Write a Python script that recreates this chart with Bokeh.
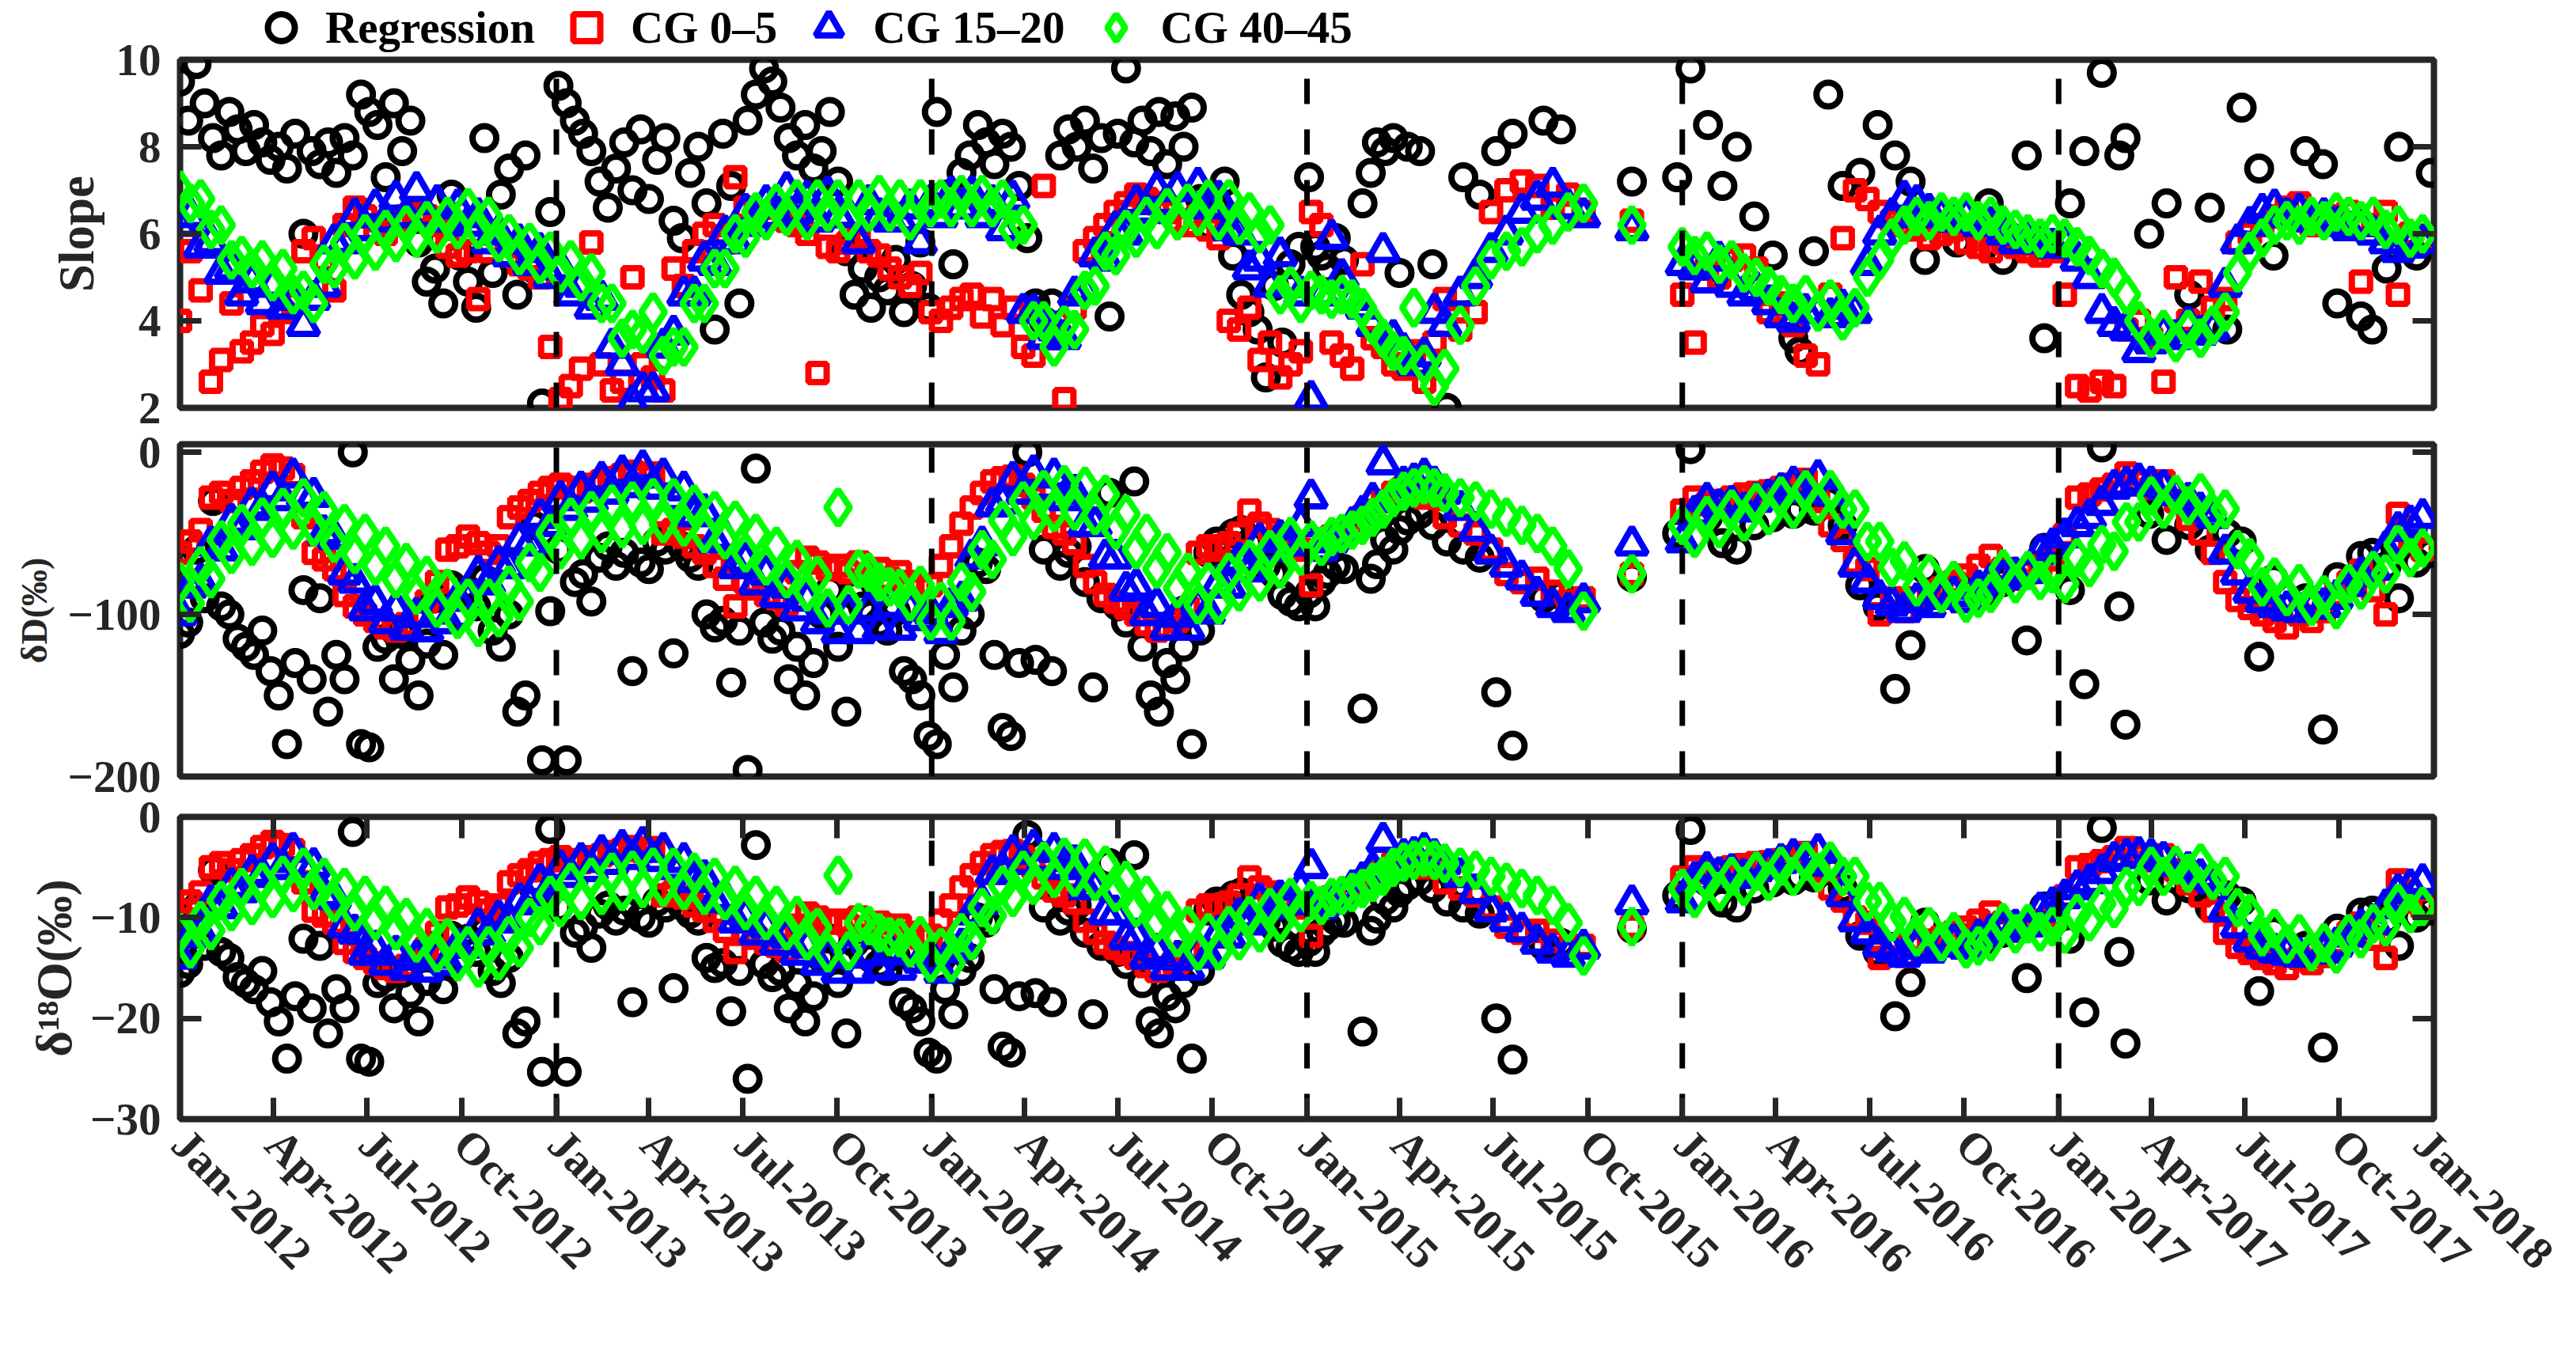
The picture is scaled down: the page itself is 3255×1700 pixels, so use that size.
import pandas as pd
from bokeh.plotting import figure
from bokeh.models import (Range1d, FixedTicker, LinearAxis, Legend, LegendItem,
                          CustomJSTickFormatter)
from bokeh.layouts import column
from bokeh.embed import file_html
from bokeh.resources import INLINE

# ---------------------------------------------------------------- data
START = pd.Timestamp("2012-01-01")
END = pd.Timestamp("2018-01-01")

x_tick_labels = ["Jan-2012", "Apr-2012", "Jul-2012", "Oct-2012",
                 "Jan-2013", "Apr-2013", "Jul-2013", "Oct-2013",
                 "Jan-2014", "Apr-2014", "Jul-2014", "Oct-2014",
                 "Jan-2015", "Apr-2015", "Jul-2015", "Oct-2015",
                 "Jan-2016", "Apr-2016", "Jul-2016", "Oct-2016",
                 "Jan-2017", "Apr-2017", "Jul-2017", "Oct-2017", "Jan-2018"]
year_marks = ["2013-01-01", "2014-01-01", "2015-01-01", "2016-01-01", "2017-01-01"]

series_names = ["Regression", "CG 0\u20135", "CG 15\u201320", "CG 40\u201345"]

# sampling dates of the CG series, days since 2012-01-01
cg_day = [
    0, 10, 20, 30, 40, 50, 60, 70, 80, 90,
    100, 110, 120, 130, 140, 150, 160, 170, 180, 190,
    200, 210, 220, 230, 240, 250, 260, 270, 280, 290,
    300, 310, 320, 330, 340, 350, 360, 370, 380, 390,
    400, 410, 420, 430, 440, 450, 460, 470, 480, 490,
    500, 510, 520, 530, 540, 550, 560, 570, 580, 590,
    600, 610, 620, 630, 640, 650, 660, 670, 680, 690,
    700, 710, 720, 730, 740, 750, 760, 770, 780, 790,
    800, 810, 820, 830, 840, 850, 860, 870, 880, 890,
    900, 910, 920, 930, 940, 950, 960, 970, 980, 990,
    1000, 1010, 1020, 1030, 1040, 1050, 1060, 1070, 1080, 1090,
    1100, 1110, 1120, 1130, 1140, 1150, 1160, 1170, 1180, 1190,
    1200, 1210, 1220, 1230, 1245, 1260, 1275, 1290, 1305, 1320,
    1335, 1350, 1365, 1412,
    1461, 1473, 1485, 1497, 1509, 1521, 1533, 1545, 1557, 1569,
    1581, 1593, 1605, 1617, 1629, 1641, 1653, 1665, 1677, 1689,
    1701, 1713, 1725, 1737, 1749, 1761, 1773, 1785, 1797, 1809,
    1821, 1833, 1845, 1857, 1869, 1881, 1893, 1905, 1917, 1929,
    1941, 1953, 1965, 1977, 1989, 2001, 2013, 2025, 2037, 2049,
    2061, 2073, 2085, 2097, 2109, 2121, 2133, 2145, 2157, 2169,
    2181]

# dates of the regression estimates, days since 2012-01-01
reg_day = [
    0, 8, 16, 24, 32, 40, 48, 56, 64, 72, 80, 88,
    96, 104, 112, 120, 128, 136, 144, 152, 160, 168, 176,
    184, 192, 200, 208, 216, 224, 232, 240, 248, 256, 264, 272,
    280, 288, 296, 304, 312, 320, 328, 336, 344, 352, 360,
    368, 376, 384, 392, 400, 408, 416, 424, 432, 440, 448, 456,
    464, 472, 480, 488, 496, 504, 512, 520, 528, 536, 544,
    552, 560, 568, 576, 584, 592, 600, 608, 616, 624, 632,
    640, 648, 656, 664, 672, 680, 688, 696, 704, 712, 720, 728,
    736, 744, 752, 760, 768, 776, 784, 792, 800, 808, 816,
    824, 832, 840, 848, 856, 864, 872, 880, 888, 896, 904,
    912, 920, 928, 936, 944, 952, 960, 968, 976, 984, 992,
    1000, 1008, 1016, 1024, 1032, 1040, 1048, 1056, 1064, 1072, 1080, 1088,
    1098, 1104, 1110, 1116, 1124, 1132, 1150, 1158, 1164, 1172, 1180, 1186,
    1194, 1206, 1218, 1232, 1248, 1264, 1280, 1296, 1326, 1343, 1412,
    1456, 1469, 1486, 1500, 1514, 1531, 1549, 1569, 1575, 1589, 1603, 1617,
    1634, 1651, 1668, 1683, 1697, 1728, 1759, 1773, 1796, 1813, 1838, 1852,
    1869, 1886, 1892, 1915, 1932, 1954, 1974, 1991, 2005, 2022, 2036, 2067,
    2084, 2098, 2121, 2132, 2146, 2158, 2175, 2189]

# ---- Slope
slope_reg = [
    9.5, 8.6, 9.9, 9.0, 8.2, 7.8, 8.8, 8.4, 7.9, 8.5, 8.1, 7.7,
    8.0, 7.5, 8.3, 6.0, 7.9, 7.6, 8.1, 7.4, 8.2, 7.8, 9.2,
    8.8, 8.5, 7.3, 9.0, 7.9, 8.6, 5.8, 4.9, 5.2, 4.4, 6.9, 5.5,
    4.9, 4.3, 8.2, 5.1, 6.9, 7.5, 4.6, 7.8, 5.2, 2.1, 6.5,
    9.4, 9.0, 8.6, 8.3, 7.9, 7.2, 6.6, 7.5, 8.1, 7.0, 8.4, 6.8,
    7.7, 8.2, 6.3, 5.9, 7.4, 8.0, 6.7, 3.8, 8.3, 7.1, 4.4,
    8.6, 9.2, 9.8, 9.5, 8.9, 8.2, 7.8, 8.5, 7.5, 7.9, 8.8,
    7.2, 5.6, 4.6, 5.2, 4.3, 5.0, 4.7, 5.4, 4.2, 4.8, 5.8, 4.3,
    8.8, 6.9, 5.3, 7.4, 7.8, 8.5, 8.1, 7.6, 8.3, 8.0, 7.1,
    5.9, 4.4, 4.0, 4.4, 7.8, 8.4, 8.0, 8.6, 7.5, 8.2, 4.1,
    8.3, 9.8, 8.1, 8.6, 7.9, 8.8, 7.6, 8.7, 8.0, 8.9, 6.8,
    6.2, 6.6, 7.2, 5.5, 4.6, 4.2, 3.8, 2.7, 4.8, 3.5, 5.3, 5.7,
    7.3, 5.7, 5.5, 5.2, 5.9, 5.4, 6.7, 7.4, 8.1, 7.9, 8.2, 5.1,
    8.0, 7.9, 5.3, 2.0, 7.3, 6.9, 7.9, 8.3, 8.6, 8.4, 7.2,
    7.3, 9.8, 8.5, 7.1, 8.0, 6.4, 5.5, 3.6, 3.3, 5.6, 9.2, 7.1,
    7.4, 8.5, 7.8, 7.2, 5.4, 5.8, 6.7, 5.4, 7.8, 3.6, 6.7, 7.9,
    9.7, 7.8, 8.2, 6.0, 6.7, 4.6, 6.6, 3.8, 8.9, 7.5, 5.5, 7.9,
    7.6, 4.4, 4.1, 3.8, 5.2, 8.0, 5.5, 7.4]

slope_cg0_5 = [
    4.0, 5.6, 4.7, 2.6, 3.1, 4.4, 3.3, 3.5, 3.9, 3.7,
    4.2, 4.4, 5.6, 5.9, 5.4, 4.7, 6.2, 6.6, 6.4, 6.1,
    6.0, 6.3, 6.4, 6.5, 6.4, 6.2, 5.7, 5.5, 5.6, 4.5,
    5.6, 5.8, 5.5, 5.3, 5.2, 5.0, 3.4, 2.2, 2.5, 2.9,
    5.8, 3.0, 2.4, 2.6, 5.0, 3.0, 2.7, 2.4, 5.2, 4.8,
    5.6, 6.0, 6.2, 5.8, 7.3, 6.6, 6.5, 6.4, 6.6, 6.3,
    6.2, 6.0, 2.8, 5.7, 5.6, 5.8, 5.9, 5.6, 5.5, 5.2,
    5.0, 4.8, 5.1, 4.2, 4.0, 4.3, 4.5, 4.6, 4.1, 4.5,
    3.9, 4.3, 3.4, 3.2, 7.1, 3.6, 2.2, 4.3, 5.6, 5.9,
    6.2, 6.5, 6.7, 6.9, 6.8, 6.7, 6.5, 6.3, 6.2, 6.4,
    6.1, 5.9, 4.0, 3.8, 4.3, 3.1, 3.5, 2.7, 3.0, 3.3,
    6.5, 6.2, 3.5, 3.2, 2.9, 5.3, 3.6, 3.4, 3.0, 2.9,
    3.3, 2.6, 3.5, 4.5, 3.8, 4.2, 6.5, 7.0, 7.2, 7.1,
    6.6, 6.9, 6.5, 6.3,
    4.6, 3.5, 5.2, 5.0, 5.4, 5.5, 5.2, 4.2, 4.4, 3.9,
    3.2, 3.0, 4.6, 5.9, 7.0, 6.8, 6.5, 6.3, 6.2, 6.1,
    5.9, 6.0, 6.1, 5.8, 5.7, 5.6, 5.8, 5.7, 5.6, 5.5,
    5.6, 4.6, 2.5, 2.4, 2.6, 2.5, 3.8, 4.0, 3.6, 2.6,
    5.0, 4.0, 4.9, 4.3, 4.5, 5.8, 6.0, 6.2, 6.4, 6.6,
    6.7, 6.2, 6.3, 6.4, 6.5, 4.9, 6.2, 6.5, 4.6, 6.0,
    5.9]

slope_cg15_20 = [
    6.2, 6.4, 5.7, 5.8, 5.1, 5.2, 4.6, 4.9, 4.4, 4.8,
    4.3, 4.5, 3.9, 4.5, 4.8, 5.8, 5.8, 6.4, 6.1, 6.6,
    6.3, 6.8, 6.4, 7.0, 6.4, 6.7, 6.3, 6.6, 6.2, 6.4,
    5.8, 6.0, 5.5, 5.8, 5.3, 5.6, 5.0, 5.2, 4.6, 4.8,
    4.3, 4.5, 3.4, 3.0, 2.1, 2.4, 2.4, 3.4, 3.7, 4.6,
    4.6, 5.4, 5.3, 6.0, 5.8, 6.5, 6.2, 6.7, 6.4, 7.0,
    6.5, 6.8, 6.3, 6.9, 6.4, 6.4, 5.8, 6.7, 6.4, 6.3,
    6.3, 6.6, 5.8, 6.7, 6.4, 6.9, 6.6, 6.9, 6.4, 6.7,
    6.1, 6.8, 4.2, 4.2, 3.6, 3.8, 3.6, 4.6, 4.7, 5.5,
    5.4, 6.1, 6.0, 6.7, 6.5, 7.0, 6.7, 7.0, 6.7, 7.1,
    6.6, 6.8, 6.1, 6.0, 5.2, 5.4, 4.8, 5.5, 4.8, 4.6,
    2.2, 4.6, 5.9, 5.0, 4.5, 4.3, 3.9, 5.6, 3.6, 3.3,
    3.0, 3.2, 4.2, 3.9, 4.6, 5.0, 5.6, 6.0, 6.5, 6.8,
    7.1, 6.6, 6.4, 6.1,
    5.3, 5.2, 4.9, 5.4, 4.8, 4.6, 4.7, 4.4, 4.1, 4.0,
    4.2, 4.2, 4.1, 4.3, 4.2, 5.3, 6.0, 6.4, 6.8, 6.7,
    6.5, 6.4, 6.3, 6.4, 6.2, 6.2, 6.0, 5.8, 5.9, 5.8,
    5.7, 5.8, 5.4, 5.0, 4.2, 3.9, 3.8, 3.3, 3.5, 3.7,
    3.6, 3.9, 3.7, 3.8, 4.8, 5.8, 6.2, 6.5, 6.6, 6.4,
    6.5, 6.3, 6.4, 6.2, 6.1, 6.2, 6.0, 5.8, 5.6, 5.7,
    5.8]

slope_cg40_45 = [
    7.0, 6.7, 6.8, 6.1, 6.2, 5.4, 5.5, 5.2, 5.4, 4.9,
    5.2, 4.6, 4.7, 4.4, 5.3, 5.2, 5.8, 5.4, 6.0, 5.6,
    6.1, 5.8, 6.2, 5.9, 6.3, 6.0, 6.4, 6.1, 6.6, 6.1,
    6.4, 5.8, 6.0, 5.5, 5.8, 5.3, 5.6, 5.1, 5.4, 4.9,
    5.1, 4.4, 4.4, 3.6, 3.8, 3.7, 4.2, 3.2, 3.4, 3.4,
    4.4, 4.4, 5.2, 5.2, 6.0, 5.9, 6.5, 6.3, 6.7, 6.4,
    6.8, 6.3, 6.8, 6.5, 6.8, 6.3, 6.8, 6.5, 6.9, 6.5,
    6.8, 6.3, 6.8, 6.6, 6.8, 6.6, 6.9, 6.6, 6.9, 6.6,
    6.8, 6.1, 6.2, 4.0, 4.0, 3.4, 3.9, 3.8, 4.7, 4.8,
    5.6, 5.5, 6.1, 5.9, 6.4, 6.1, 6.6, 6.3, 6.7, 6.4,
    6.8, 6.3, 6.8, 6.2, 6.5, 6.0, 6.2, 4.6, 4.8, 4.4,
    4.7, 4.6, 4.5, 4.6, 4.5, 4.3, 3.9, 3.6, 3.3, 3.2,
    4.3, 3.0, 2.5, 2.9, 3.9, 4.8, 5.4, 5.6, 5.7, 6.0,
    6.2, 6.5, 6.7, 6.2,
    5.7, 5.5, 5.6, 5.3, 5.4, 5.1, 5.0, 4.8, 4.6, 4.4,
    4.6, 4.2, 4.5, 4.0, 4.3, 5.0, 5.4, 5.9, 6.2, 6.4,
    6.3, 6.5, 6.4, 6.5, 6.3, 6.4, 6.2, 6.1, 6.0, 5.9,
    6.0, 5.9, 5.7, 5.5, 5.2, 5.0, 4.6, 4.0, 3.6, 3.8,
    3.5, 3.8, 3.6, 3.9, 4.2, 5.1, 5.6, 5.9, 6.2, 6.3,
    6.2, 6.4, 6.3, 6.5, 6.4, 6.3, 6.4, 6.1, 6.2, 5.9,
    6.0]

# ---- deltaD (permil)
dD_reg = [
    -112, -105, -60, -90, -30, -95, -100, -115, -120, -125, -110, -135,
    -150, -180, -130, -85, -140, -90, -160, -125, -140, 0, -180,
    -182, -120, -115, -140, -112, -128, -150, -118, -90, -125, -82, -100,
    -85, -95, -78, -110, -120, -100, -160, -150, -45, -190, -98,
    -60, -190, -80, -75, -92, -65, -58, -70, -62, -135, -68, -72,
    -55, -60, -124, -58, -65, -70, -100, -108, -104, -142, -110,
    -196, -10, -105, -115, -110, -140, -120, -150, -130, -100, -85,
    -120, -160, -88, -95, -100, -105, -110, -98, -135, -140, -150, -175,
    -180, -125, -145, -110, -100, -68, -72, -125, -170, -175, -130,
    0, -128, -60, -135, -70, -62, -58, -80, -145, -90, -25,
    -95, -105, -18, -120, -150, -160, -130, -140, -120, -180, -110,
    -62, -55, -60, -50, -48, -56, -58, -70, -75, -88, -92, -95,
    -87, -95, -80, -75, -70, -72, -158, -78, -69, -54, -60, -48,
    -42, -38, -45, -55, -60, -65, -148, -181, -90, -88, -77,
    -50, 2, -40, -56, -60, -45, -40, -38, -35, -36, -30, -45,
    -82, -95, -146, -119, -72, -82, -85, -80, -116, -59, -85, -143,
    3, -95, -168, -38, -54, -45, -60, -50, -55, -126, -78, -90,
    -171, -77, -64, -62, -70, -90, -68, -62]

dD_cg0_5 = [
    -62, -55, -48, -28, -25, -30, -22, -18, -12, -8,
    -10, -14, -40, -62, -66, -72, -88, -95, -100, -104,
    -108, -110, -106, -100, -92, -80, -60, -58, -52, -56,
    -62, -58, -40, -34, -30, -25, -22, -20, -22, -24,
    -20, -18, -16, -14, -12, -15, -13, -50, -48, -52,
    -58, -62, -70, -78, -95, -80, -84, -88, -90, -94,
    -74, -65, -68, -72, -70, -74, -68, -76, -72, -78,
    -74, -80, -84, -82, -70, -58, -44, -34, -25, -18,
    -16, -15, -20, -28, -36, -46, -50, -56, -70, -80,
    -88, -92, -96, -100, -106, -110, -108, -104, -96, -62,
    -58, -60, -56, -50, -36, -44, -48, -52, -55, -60,
    -82, -60, -52, -50, -48, -40, -36, -30, -25, -22,
    -24, -28, -26, -40, -45, -50, -60, -75, -80, -78,
    -86, -92, -90, -75,
    -36, -28, -32, -30, -28, -26, -25, -24, -22, -20,
    -17, -30, -45, -54, -68, -72, -100, -90, -98, -90,
    -86, -84, -80, -76, -70, -64, -72, -78, -74, -70,
    -66, -51, -28, -26, -23, -20, -13, -18, -22, -18,
    -30, -41, -50, -62, -80, -91, -96, -100, -104, -108,
    -100, -104, -98, -88, -80, -73, -85, -100, -38, -55,
    -60]

dD_cg15_20 = [
    -100, -83, -80, -57, -60, -43, -47, -33, -35, -23,
    -29, -15, -27, -27, -50, -53, -75, -80, -97, -93,
    -105, -97, -109, -101, -110, -99, -105, -91, -91, -75,
    -81, -69, -71, -55, -57, -40, -45, -29, -35, -23,
    -30, -17, -25, -13, -21, -10, -22, -15, -29, -23,
    -39, -37, -55, -53, -71, -67, -81, -75, -89, -83,
    -97, -91, -105, -99, -111, -99, -111, -97, -109, -95,
    -109, -97, -103, -99, -111, -95, -91, -65, -57, -33,
    -31, -17, -25, -13, -22, -15, -29, -25, -45, -45,
    -65, -65, -85, -83, -100, -95, -109, -101, -109, -95,
    -99, -81, -83, -67, -73, -55, -60, -53, -57, -45,
    -28, -60, -55, -50, -45, -38, -30, -7, -28, -20,
    -18, -15, -20, -25, -35, -48, -62, -70, -78, -88,
    -95, -98, -92, -57,
    -55, -38, -30, -34, -32, -36, -30, -28, -24, -20,
    -22, -16, -26, -50, -70, -80, -90, -94, -98, -92,
    -95, -90, -88, -92, -84, -80, -78, -76, -74, -62,
    -58, -52, -45, -40, -32, -22, -20, -18, -20, -22,
    -26, -30, -36, -40, -62, -75, -86, -92, -95, -97,
    -98, -96, -95, -90, -82, -76, -72, -60, -48, -44,
    -40]

dD_cg40_45 = [
    -80, -93, -70, -78, -54, -63, -44, -58, -40, -53,
    -34, -48, -28, -46, -36, -56, -44, -63, -50, -70,
    -58, -78, -68, -88, -76, -96, -84, -103, -90, -108,
    -90, -102, -82, -92, -68, -74, -50, -60, -40, -54,
    -36, -50, -32, -47, -30, -45, -28, -44, -28, -46,
    -32, -50, -36, -54, -42, -62, -50, -70, -58, -78,
    -66, -86, -76, -96, -34, -94, -72, -74, -80, -83,
    -84, -92, -82, -104, -92, -104, -80, -86, -60, -66,
    -42, -52, -30, -42, -23, -37, -20, -36, -21, -39,
    -26, -48, -38, -60, -50, -72, -62, -84, -74, -94,
    -80, -94, -74, -86, -66, -80, -60, -72, -52, -64,
    -54, -58, -52, -50, -48, -45, -40, -35, -28, -24,
    -22, -20, -22, -25, -28, -30, -35, -40, -45, -50,
    -58, -72, -98, -75,
    -45, -53, -39, -47, -35, -43, -31, -39, -27, -35,
    -23, -32, -23, -35, -35, -55, -55, -71, -67, -83,
    -75, -87, -79, -93, -90, -87, -72, -81, -73, -79,
    -75, -81, -65, -71, -57, -61, -43, -43, -27, -35,
    -26, -33, -25, -38, -35, -60, -65, -83, -77, -89,
    -81, -95, -88, -97, -81, -85, -73, -75, -57, -65,
    -59]

# ---- delta18O (permil)
d18O_reg = [
    -15.5, -14.6, -9.0, -12.8, -5.3, -13.4, -14.0, -15.9, -16.5, -17.1, -15.3, -18.4,
    -20.3, -24.0, -17.8, -12.1, -19.0, -12.8, -21.5, -17.1, -19.0, -1.5, -24.0,
    -24.3, -16.5, -15.9, -19.0, -15.5, -17.5, -20.3, -16.3, -12.8, -17.1, -11.8, -14.0,
    -12.1, -13.4, -11.3, -15.3, -16.5, -14.0, -21.5, -20.3, -7.1, -25.3, -1.2,
    -9.0, -25.3, -11.5, -10.9, -13.0, -9.6, -8.8, -10.3, -9.3, -18.4, -10.0, -10.5,
    -8.4, -9.0, -17.0, -8.8, -9.6, -10.3, -14.0, -15.0, -14.5, -19.3, -15.3,
    -26.0, -2.8, -14.6, -15.9, -15.3, -19.0, -16.5, -20.3, -17.8, -14.0, -12.1,
    -16.5, -21.5, -12.5, -13.4, -14.0, -14.6, -15.3, -13.8, -18.4, -19.0, -20.3, -23.4,
    -24.0, -17.1, -19.6, -15.3, -14.0, -10.0, -10.5, -17.1, -22.8, -23.4, -17.8,
    -1.8, -17.5, -9.0, -18.4, -10.3, -9.3, -8.8, -11.5, -19.6, -12.8, -4.6,
    -13.4, -14.6, -3.8, -16.5, -20.3, -21.5, -17.8, -19.0, -16.5, -24.0, -15.3,
    -9.3, -8.4, -9.0, -7.8, -7.5, -8.5, -8.8, -10.3, -10.9, -12.5, -13.0, -13.4,
    -12.4, -13.4, -11.5, -10.9, -10.3, -10.5, -21.3, -11.3, -10.1, -8.3, -9.0, -7.5,
    -6.8, -6.3, -7.1, -8.4, -9.0, -9.6, -20.0, -24.1, -12.8, -12.5, -11.1,
    -7.8, -1.3, -6.5, -8.5, -9.0, -7.1, -6.5, -6.3, -5.9, -6.0, -5.3, -7.1,
    -11.8, -13.4, -19.8, -16.4, -10.5, -11.8, -12.1, -11.5, -16.0, -8.9, -12.1, -19.4,
    -1.1, -13.4, -22.5, -6.3, -8.3, -7.1, -9.0, -7.8, -8.4, -17.3, -11.3, -12.8,
    -22.9, -11.1, -9.5, -9.3, -10.3, -12.8, -10.0, -9.3]

d18O_cg0_5 = [
    -9.3, -8.4, -7.5, -5.0, -4.6, -5.3, -4.3, -3.8, -3.0, -2.5,
    -2.8, -3.3, -6.5, -9.3, -9.8, -10.5, -12.5, -13.4, -14.0, -14.5,
    -15.0, -15.3, -14.8, -14.0, -13.0, -11.5, -9.0, -8.8, -8.0, -8.5,
    -9.3, -8.8, -6.5, -5.8, -5.3, -4.6, -4.3, -4.0, -4.3, -4.5,
    -4.0, -3.8, -3.5, -3.3, -3.0, -3.4, -3.1, -7.8, -7.5, -8.0,
    -8.8, -9.3, -10.3, -11.3, -13.4, -11.5, -12.0, -12.5, -12.8, -13.3,
    -10.8, -9.6, -10.0, -10.5, -10.3, -10.8, -10.0, -11.0, -10.5, -11.3,
    -10.8, -11.5, -12.0, -11.8, -10.3, -8.8, -7.0, -5.8, -4.6, -3.8,
    -3.5, -3.4, -4.0, -5.0, -6.0, -7.3, -7.8, -8.5, -10.3, -11.5,
    -12.5, -13.0, -13.5, -14.0, -14.8, -15.3, -15.0, -14.5, -13.5, -9.3,
    -8.8, -9.0, -8.5, -7.8, -6.0, -7.0, -7.5, -8.0, -8.4, -9.0,
    -11.8, -9.0, -8.0, -7.8, -7.5, -6.5, -6.0, -5.3, -4.6, -4.3,
    -4.5, -5.0, -4.8, -6.5, -7.1, -7.8, -9.0, -10.9, -11.5, -11.3,
    -12.3, -13.0, -12.8, -10.9,
    -6.0, -5.0, -5.5, -5.3, -5.0, -4.8, -4.6, -4.5, -4.3, -4.0,
    -3.6, -5.3, -7.1, -8.3, -10.0, -10.5, -14.0, -12.8, -13.8, -12.8,
    -12.3, -12.0, -11.5, -11.0, -10.3, -9.5, -10.5, -11.3, -10.8, -10.3,
    -9.8, -7.9, -5.0, -4.8, -4.4, -4.0, -3.1, -3.8, -4.3, -3.8,
    -5.3, -6.6, -7.8, -9.3, -11.5, -12.9, -13.5, -14.0, -14.5, -15.0,
    -14.0, -14.5, -13.8, -12.5, -11.5, -10.6, -12.1, -14.0, -6.3, -8.4,
    -9.0]

d18O_cg15_20 = [
    -14.0, -11.9, -11.5, -8.6, -9.0, -6.9, -7.4, -5.6, -5.9, -4.4,
    -5.1, -3.4, -4.9, -4.9, -7.8, -8.1, -10.9, -11.5, -13.6, -13.1,
    -14.6, -13.6, -15.1, -14.1, -15.3, -13.9, -14.6, -12.9, -12.9, -10.9,
    -11.6, -10.1, -10.4, -8.4, -8.6, -6.5, -7.1, -5.1, -5.9, -4.4,
    -5.3, -3.6, -4.6, -3.1, -4.1, -2.8, -4.3, -3.4, -5.1, -4.4,
    -6.4, -6.1, -8.4, -8.1, -10.4, -9.9, -11.6, -10.9, -12.6, -11.9,
    -13.6, -12.9, -14.6, -13.9, -15.4, -13.9, -15.4, -13.6, -15.1, -13.4,
    -15.1, -13.6, -14.4, -13.9, -15.4, -13.4, -12.9, -9.6, -8.6, -5.6,
    -5.4, -3.6, -4.6, -3.1, -4.3, -3.4, -5.1, -4.6, -7.1, -7.1,
    -9.6, -9.6, -12.1, -11.9, -14.0, -13.4, -15.1, -14.1, -15.1, -13.4,
    -13.9, -11.6, -11.9, -9.9, -10.6, -8.4, -9.0, -8.1, -8.6, -7.1,
    -5.0, -9.0, -8.4, -7.8, -7.1, -6.3, -5.3, -2.4, -5.0, -4.0,
    -3.8, -3.4, -4.0, -4.6, -5.9, -7.5, -9.3, -10.3, -11.3, -12.5,
    -13.4, -13.8, -13.0, -8.6,
    -8.4, -6.3, -5.3, -5.8, -5.5, -6.0, -5.3, -5.0, -4.5, -4.0,
    -4.3, -3.5, -4.8, -7.8, -10.3, -11.5, -12.8, -13.3, -13.8, -13.0,
    -13.4, -12.8, -12.5, -13.0, -12.0, -11.5, -11.3, -11.0, -10.8, -9.3,
    -8.8, -8.0, -7.1, -6.5, -5.5, -4.3, -4.0, -3.8, -4.0, -4.3,
    -4.8, -5.3, -6.0, -6.5, -9.3, -10.9, -12.3, -13.0, -13.4, -13.6,
    -13.8, -13.5, -13.4, -12.8, -11.8, -11.0, -10.5, -9.0, -7.5, -7.0,
    -6.5]

d18O_cg40_45 = [
    -11.5, -13.1, -10.3, -11.3, -8.3, -9.4, -7.0, -8.8, -6.5, -8.1,
    -5.8, -7.5, -5.0, -7.3, -6.0, -8.5, -7.0, -9.4, -7.8, -10.3,
    -8.8, -11.3, -10.0, -12.5, -11.0, -13.5, -12.0, -14.4, -12.8, -15.0,
    -12.8, -14.3, -11.8, -13.0, -10.0, -10.8, -7.8, -9.0, -6.5, -8.3,
    -6.0, -7.8, -5.5, -7.4, -5.3, -7.1, -5.0, -7.0, -5.0, -7.3,
    -5.5, -7.8, -6.0, -8.3, -6.8, -9.3, -7.8, -10.3, -8.8, -11.3,
    -9.8, -12.3, -11.0, -13.5, -5.8, -13.3, -10.5, -10.8, -11.5, -11.9,
    -12.0, -13.0, -11.8, -14.5, -13.0, -14.5, -11.5, -12.3, -9.0, -9.8,
    -6.8, -8.0, -5.3, -6.8, -4.4, -6.1, -4.0, -6.0, -4.1, -6.4,
    -4.8, -7.5, -6.3, -9.0, -7.8, -10.5, -9.3, -12.0, -10.8, -13.3,
    -11.5, -13.3, -10.8, -12.3, -9.8, -11.5, -9.0, -10.5, -8.0, -9.5,
    -8.3, -8.8, -8.0, -7.8, -7.5, -7.1, -6.5, -5.9, -5.0, -4.5,
    -4.3, -4.0, -4.3, -4.6, -5.0, -5.3, -5.9, -6.5, -7.1, -7.8,
    -8.8, -10.5, -13.8, -10.9,
    -7.1, -8.1, -6.4, -7.4, -5.9, -6.9, -5.4, -6.4, -4.9, -5.9,
    -4.4, -5.5, -4.4, -5.9, -5.9, -8.4, -8.4, -10.4, -9.9, -11.9,
    -10.9, -12.4, -11.4, -13.1, -12.8, -12.4, -10.5, -11.6, -10.6, -11.4,
    -10.9, -11.6, -9.6, -10.4, -8.6, -9.1, -6.9, -6.9, -4.9, -5.9,
    -4.8, -5.6, -4.6, -6.3, -5.9, -9.0, -9.6, -11.9, -11.1, -12.6,
    -11.6, -13.4, -12.5, -13.6, -11.6, -12.1, -10.6, -10.9, -8.6, -9.6,
    -8.9]

# ---------------------------------------------------------------- styling
FONT = "Liberation Serif"
INK = "#262626"
TICK_PX = "57px"
FRAME_W = 2848
BORDER_L = 227
BORDER_R = 164
MARK_LW = 8
LEGEND_H = 75

MARKERS = [dict(marker="circle", size=30, line_color="black"),
           dict(marker="square", size=23, line_color="#FF0000"),
           dict(marker="triangle", size=38, line_color="#0000FF"),
           dict(marker="diamond", size=45, line_color="#00FF00")]


def days_since_start(dates):
    return [(pd.Timestamp(d) - START).days for d in dates]

x_tick_days = days_since_start(pd.to_datetime(x_tick_labels, format="%b-%Y"))
year_days = days_since_start(year_marks)
x_range = Range1d(0, (END - START).days)

minus_fmt = CustomJSTickFormatter(code="return tick < 0 ? '\\u2212' + Math.abs(tick) : String(tick);")
blank_fmt = CustomJSTickFormatter(code="return '';")


def tick_style(ax):
    ax.major_tick_in = 27
    ax.major_tick_out = 0
    ax.major_tick_line_width = 7
    ax.major_tick_line_color = INK
    ax.minor_tick_line_color = None
    ax.axis_line_color = None
    ax.major_label_text_font = FONT
    ax.major_label_text_font_style = "bold"
    ax.major_label_text_font_size = TICK_PX
    ax.major_label_text_color = INK


def make_panel(y_lo, y_hi, y_ticks, y_label, label_px, label_standoff,
               frame_h, b_top, b_bottom, overlap):
    p = figure(frame_width=FRAME_W, frame_height=frame_h,
               x_range=x_range, y_range=Range1d(y_lo, y_hi),
               x_axis_type=None, y_axis_type=None,
               output_backend="svg", toolbar_location=None,
               min_border_left=BORDER_L, min_border_right=BORDER_R,
               min_border_top=b_top, min_border_bottom=b_bottom,
               background_fill_color="white", border_fill_alpha=0,
               margin=(-overlap, 0, 0, 0))
    p.outline_line_color = INK
    p.outline_line_width = 8
    p.outline_line_alpha = 1.0

    left = LinearAxis(ticker=FixedTicker(ticks=y_ticks), formatter=minus_fmt)
    tick_style(left)
    left.major_label_standoff = 24
    left.axis_label = y_label
    left.axis_label_text_font = FONT
    left.axis_label_text_font_style = "bold"
    left.axis_label_text_font_size = f"{label_px}px"
    left.axis_label_text_color = INK
    left.axis_label_standoff = label_standoff
    p.add_layout(left, "left")

    right = LinearAxis(ticker=FixedTicker(ticks=y_ticks), formatter=blank_fmt)
    tick_style(right)
    right.major_label_standoff = 0
    p.add_layout(right, "right")
    return p


def series_points(reg, cg0, cg15, cg40):
    def pts(days, vals):
        n = min(len(days), len(vals))
        return days[:n], vals[:n]
    return [pts(reg_day, reg), pts(cg_day, cg0), pts(cg_day, cg15), pts(cg_day, cg40)]


def add_series(p, reg, cg0, cg15, cg40):
    out = []
    for (days, vals), style in zip(series_points(reg, cg0, cg15, cg40), MARKERS):
        out.append(p.scatter(days, vals, fill_color=None, line_width=MARK_LW, **style))
    lo, hi = p.y_range.start, p.y_range.end
    p.segment(x0=year_days, y0=[lo] * len(year_days), x1=year_days,
              y1=[hi] * len(year_days), line_color="black", line_width=7,
              line_dash="32 32")
    return out


# ---- legend strip (page y 8..83), overlapped by panel 1's transparent top border.
# It carries the slope series only so that its legend glyphs get drawn; its view
# range lies below every slope value, so none of those points is visible here.
p0 = figure(frame_width=FRAME_W, frame_height=LEGEND_H,
            x_range=x_range, y_range=Range1d(-2, -1),
            x_axis_type=None, y_axis_type=None,
            output_backend="svg", toolbar_location=None,
            min_border_left=BORDER_L, min_border_right=BORDER_R,
            min_border_top=0, min_border_bottom=0,
            background_fill_alpha=0, border_fill_alpha=0)
p0.outline_line_color = None
legend_rends = [p0.scatter(days, vals, fill_color=None, line_width=MARK_LW, **style)
                for (days, vals), style in zip(
                    series_points(slope_reg, slope_cg0_5, slope_cg15_20, slope_cg40_45),
                    MARKERS)]
legend = Legend(items=[LegendItem(label=n, renderers=[r])
                       for n, r in zip(series_names, legend_rends)],
                orientation="horizontal", location=(83, -2),
                glyph_width=90, glyph_height=85, label_standoff=11, spacing=20,
                padding=0, margin=0, border_line_color=None,
                background_fill_alpha=0,
                label_text_font=FONT, label_text_font_style="bold",
                label_text_font_size=TICK_PX, label_text_color="black")
p0.add_layout(legend)

# panel 1: frame 83..523 on the page; panel 2: 569..989; panel 3: 1040..1422
p1 = make_panel(2, 10, [2, 4, 6, 8, 10], "Slope", 63, 12, 440, 75, 36, LEGEND_H)
add_series(p1, slope_reg, slope_cg0_5, slope_cg15_20, slope_cg40_45)

p2 = make_panel(-200, 5, [-200, -100, 0], "\u03b4D(\u2030)", 46, 14, 420, 36, 36, 26)
add_series(p2, dD_reg, dD_cg0_5, dD_cg15_20, dD_cg40_45)

p3 = make_panel(-30, 0, [-30, -20, -10, 0], "\u03b4\u00b9\u2078O(\u2030)", 63, 7, 382, 36, 262, 21)
add_series(p3, d18O_reg, d18O_cg0_5, d18O_cg15_20, d18O_cg40_45)

x_fmt = CustomJSTickFormatter(args=dict(days=x_tick_days, labels=x_tick_labels),
                              code="const i = days.indexOf(tick); return i >= 0 ? labels[i] : '';")
bottom = LinearAxis(ticker=FixedTicker(ticks=x_tick_days), formatter=x_fmt)
tick_style(bottom)
bottom.major_label_orientation = -0.7854
bottom.major_label_standoff = 22
p3.add_layout(bottom, "below")
top = LinearAxis(ticker=FixedTicker(ticks=x_tick_days), formatter=blank_fmt)
tick_style(top)
top.major_label_standoff = 0
p3.add_layout(top, "above")

layout = column(p0, p1, p2, p3, spacing=0)
open("out.html", "w").write(file_html(layout, INLINE))
